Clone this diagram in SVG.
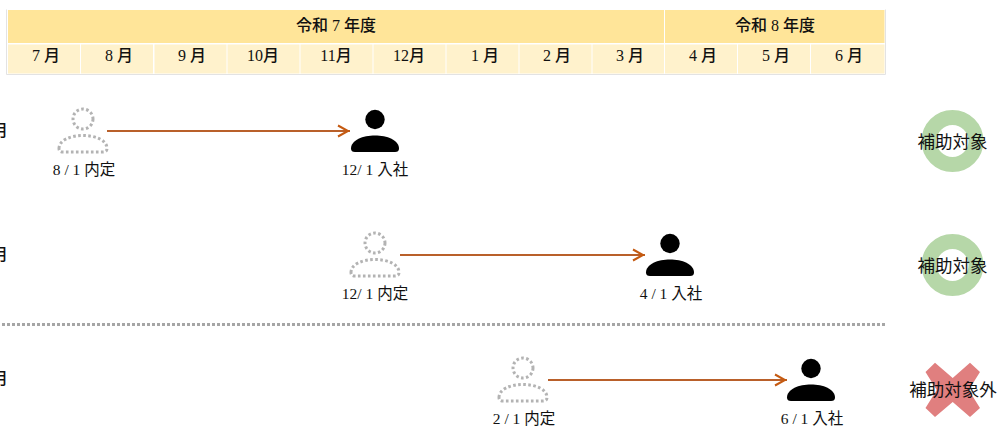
<svg xmlns="http://www.w3.org/2000/svg" width="997" height="434" viewBox="0 0 997 434">
<style>
text{font-family:"Liberation Serif","Noto Sans CJK JP",serif;fill:#111;text-anchor:middle;font-size:15.500px}
.h{font-size:16px;font-weight:500}
.m{font-size:16px;font-weight:500}
.y{fill:#ffe599}
.l{fill:#fff2cc}
.conn{stroke:#b9602a;stroke-width:2;fill:none;marker-end:url(#a)}
.st{font-size:17.500px}
</style>
<defs>
<marker id="a" markerUnits="userSpaceOnUse" markerWidth="16" markerHeight="14" refX="14" refY="7" orient="auto"><path d="M2 1.500L12 7L2 12.500" fill="none" stroke="#c55a11" stroke-width="2"/></marker>
<g id="solid"><circle cx="0" cy="-10.500" r="9.700" fill="#000"/><path d="M-24 18.500C-24 10-12 5.500 0 5.500S24 10 24 18.500Q24 22 20 22H-20Q-24 22-24 18.500Z" fill="#000"/></g>
<g id="hollow" fill="none" stroke="#b3b3b3" stroke-width="3" stroke-dasharray="2.600 2.400"><circle cx="0" cy="-11" r="10"/><path d="M-24 18.500C-24 10-12 5.500 0 5.500S24 10 24 18.500Q24 22 20 22H-20Q-24 22-24 18.500Z"/></g>
</defs>
<rect width="997" height="434" fill="#fff"/>
<g id="table">
<path d="M6.500 9.500V74.500H885.500V9.500" fill="none" stroke="#e3e3e3"/>
<rect x="8" y="10" width="656" height="33" class="y"/><rect x="665" y="10" width="219.500" height="33" class="y"/>
<rect x="8" y="44.500" width="72" height="29" class="l"/><rect x="81" y="44.500" width="72" height="29" class="l"/><rect x="154.500" y="44.500" width="72" height="29" class="l"/><rect x="227.500" y="44.500" width="72" height="29" class="l"/><rect x="300.500" y="44.500" width="72" height="29" class="l"/><rect x="373.500" y="44.500" width="72" height="29" class="l"/><rect x="446.500" y="44.500" width="72" height="29" class="l"/><rect x="519.500" y="44.500" width="72" height="29" class="l"/><rect x="592.500" y="44.500" width="71.500" height="29" class="l"/><rect x="665" y="44.500" width="72" height="29" class="l"/><rect x="738" y="44.500" width="72" height="29" class="l"/><rect x="811" y="44.500" width="73.500" height="29" class="l"/>
<text class="h" x="336" y="31">令和 7 年度</text><text class="h" x="775" y="31">令和 8 年度</text>
<text class="m" x="46" y="61">7 月</text><text class="m" x="119" y="61">8 月</text><text class="m" x="192" y="61">9 月</text><text class="m" x="263" y="61">10月</text><text class="m" x="336" y="61">11月</text><text class="m" x="409" y="61">12月</text><text class="m" x="485" y="61">1 月</text><text class="m" x="557" y="61">2 月</text><text class="m" x="630" y="61">3 月</text><text class="m" x="703" y="61">4 月</text><text class="m" x="776" y="61">5 月</text><text class="m" x="849" y="61">6 月</text>
</g>
<g id="connectors"><path class="conn" d="M107 131H350"/><path class="conn" d="M400 255H645"/><path class="conn" d="M548 380H787"/></g>
<line id="divider" x1="2" y1="324.500" x2="885" y2="324.500" stroke="#a6a6a6" stroke-width="3" stroke-dasharray="3 2"/>
<g id="row1-label"><text x="0" y="136" class="m">月</text></g>
<g id="row2-label"><text x="0" y="260" class="m">月</text></g>
<g id="row3-label"><text x="0" y="384" class="m">月</text></g>
<g id="n1"><use href="#hollow" x="83" y="130"/><text x="84" y="175">8 / 1 内定</text></g>
<g id="n2"><use href="#solid" x="375" y="130"/><text x="375" y="175">12/ 1 入社</text></g>
<g id="n3"><use href="#hollow" x="375" y="254"/><text x="375" y="299">12/ 1 内定</text></g>
<g id="n4"><use href="#solid" x="670" y="254"/><text x="671" y="299">4 / 1 入社</text></g>
<g id="n5"><use href="#hollow" x="523" y="379"/><text x="524" y="424">2 / 1 内定</text></g>
<g id="n6"><use href="#solid" x="811" y="379"/><text x="812" y="424">6 / 1 入社</text></g>
<g id="s1"><circle cx="952.500" cy="141" r="23.500" fill="none" stroke="#b6d7a8" stroke-width="15"/><text class="st" x="952.500" y="148">補助対象</text></g>
<g id="s2"><circle cx="952.500" cy="265" r="23.500" fill="none" stroke="#b6d7a8" stroke-width="15"/><text class="st" x="952.500" y="272">補助対象</text></g>
<g id="s3"><path d="M925.500 372L935 362.700L952.700 378L970 362.700L980 372L968.700 390L980 408L970 417L952.700 402L935 417L925.500 408L936.700 390Z" fill="#e07f7f"/><text class="st" x="953" y="396">補助対象外</text></g>
</svg>
